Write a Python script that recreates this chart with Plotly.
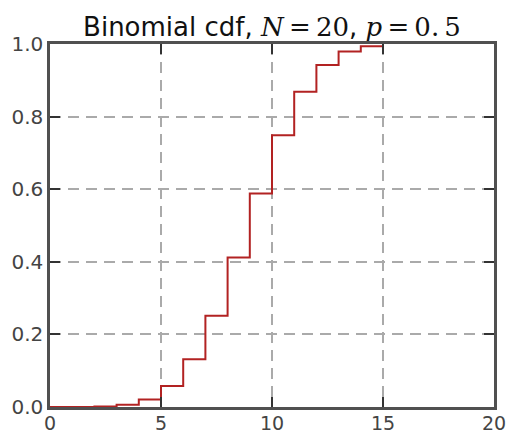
import plotly.graph_objects as go

k_values = list(range(0, 16))
cdf_values = [0.0000, 0.0000, 0.0002, 0.0013, 0.0059, 0.0207, 0.0577, 0.1316,
              0.2517, 0.4119, 0.5881, 0.7483, 0.8684, 0.9423, 0.9793, 0.9941]
x_ticks = [0, 5, 10, 15, 20]
y_ticks = [0.0, 0.2, 0.4, 0.6, 0.8, 1.0]
y_tick_labels = ["0.0", "0.2", "0.4", "0.6", "0.8", "1.0"]

fig = go.Figure()
fig.add_trace(go.Scatter(
    x=k_values, y=cdf_values, mode="lines",
    line=dict(shape="vh", color="#b22222", width=2),
    showlegend=False, cliponaxis=False,
))

serif = "font-family:'DejaVu Serif',serif"
title = (f"Binomial cdf, <span style=\"{serif}\"><i>N</i>&#8201;=&#8201;20</span>, "
         f"<span style=\"{serif}\"><i>p</i>&#8201;=&#8201;0.&#8201;5</span>")

axis_common = dict(
    showline=True, linewidth=2.5, linecolor="#505050", mirror="allticks",
    ticks="inside", ticklen=10, tickwidth=2, tickcolor="#333333",
    showgrid=True, gridcolor="#aaaaaa", gridwidth=1.7, griddash="11px,7px",
    zeroline=False, automargin=False,
)

fig.update_layout(
    width=511, height=437,
    margin=dict(l=50, r=17, t=44, b=30),
    paper_bgcolor="white", plot_bgcolor="white",
    title=dict(text=title, x=0.5, xref="paper", xanchor="center",
               y=1 - 27 / 437, yref="container", yanchor="middle", automargin=False,
               font=dict(family="DejaVu Sans", size=26, color="#111111")),
    xaxis=dict(range=[0, 20], tickvals=x_ticks, ticklabelstandoff=-3,
               tickfont=dict(family="DejaVu Sans", size=19, color="#444444"),
               **axis_common),
    yaxis=dict(range=[0, 1], tickvals=y_ticks, ticktext=y_tick_labels,
               tickfont=dict(family="DejaVu Sans", size=20, color="#444444"),
               **axis_common),
)

fig.write_html("out.html")
